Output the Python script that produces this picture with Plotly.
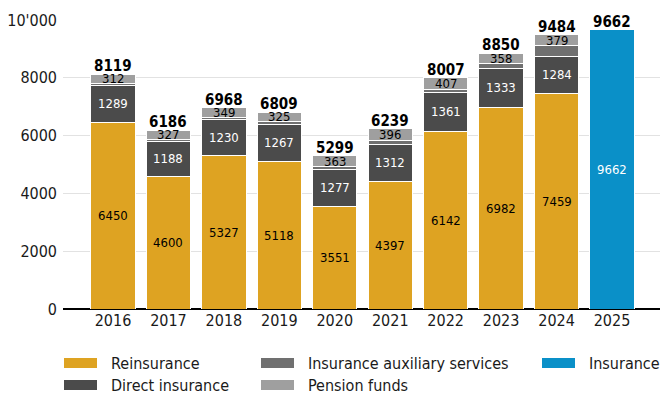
import plotly.graph_objects as go

# Values per year and sector
years = ["2016", "2017", "2018", "2019", "2020", "2021", "2022", "2023", "2024", "2025"]
reinsurance = [6450, 4600, 5327, 5118, 3551, 4397, 6142, 6982, 7459, None]
direct_insurance = [1289, 1188, 1230, 1267, 1277, 1312, 1361, 1333, 1284, None]
auxiliary_services = [68, 71, 62, 99, 108, 134, 97, 177, 362, None]
pension_funds = [312, 327, 349, 325, 363, 396, 407, 358, 379, None]
insurance = [None, None, None, None, None, None, None, None, None, 9662]
totals = [8119, 6186, 6968, 6809, 5299, 6239, 8007, 8850, 9484, 9662]

y_ticks = [0, 2000, 4000, 6000, 8000, 10000]
y_tick_labels = ["0", "2000", "4000", "6000", "8000", "10'000"]

FONT = "DejaVu Sans Condensed, DejaVu Sans, sans-serif"
COLORS = {
    "Reinsurance": "#DEA322",
    "Direct insurance": "#4B4B4B",
    "Insurance auxiliary services": "#707070",
    "Pension funds": "#9F9F9F",
    "Insurance": "#0A90C8",
}

series = [
    ("Reinsurance", reinsurance),
    ("Direct insurance", direct_insurance),
    ("Insurance auxiliary services", auxiliary_services),
    ("Pension funds", pension_funds),
    ("Insurance", insurance),
]

fig = go.Figure()
for name, vals in series:
    fig.add_trace(go.Bar(
        x=years, y=vals, name=name,
        marker=dict(color=COLORS[name], line=dict(color="white", width=1)),
        showlegend=False, hoverinfo="skip",
    ))

annotations = []

def seg_label(xi, y, text, color, size=13):
    annotations.append(dict(
        x=xi, y=y, xref="x", yref="y", text=text,
        showarrow=False, font=dict(family=FONT, size=size, color=color),
    ))

# Labels centred inside stacked segments (x given as category index)
for i, yr in enumerate(years):
    base = 0
    for name, vals in series:
        v = vals[i]
        if v is None:
            continue
        mid = base + v / 2
        if name in ("Direct insurance", "Insurance"):
            seg_label(i, mid, str(v), "white")
        elif name in ("Reinsurance", "Pension funds"):
            seg_label(i, mid, str(v), "black")
        base += v
    # Total on top of each bar
    annotations.append(dict(
        x=i, y=totals[i], xref="x", yref="y", text=f"<b>{totals[i]}</b>",
        showarrow=False, yanchor="bottom", yshift=-3,
        font=dict(family=FONT, size=15, color="black"),
    ))

# Legend drawn as swatches plus labels, laid out in three columns
W, H = 663, 396
ML, MR, MT, MB = 63, 3, 20, 87
pw, ph = W - ML - MR, H - MT - MB

def px_x(px):
    return (px - ML) / pw

def px_y(py):
    return (H - MB - py) / ph

legend_items = [
    ("Reinsurance", 64, 363),
    ("Direct insurance", 64, 385),
    ("Insurance auxiliary services", 261, 363),
    ("Pension funds", 261, 385),
    ("Insurance", 542, 363),
]
shapes = []
for name, sx, cy in legend_items:
    shapes.append(dict(
        type="rect", xref="paper", yref="paper",
        x0=px_x(sx), x1=px_x(sx + 33), y0=px_y(cy + 5), y1=px_y(cy - 5),
        fillcolor=COLORS[name], line=dict(width=0), layer="above",
    ))
    annotations.append(dict(
        x=px_x(sx + 45), y=px_y(cy), xref="paper", yref="paper",
        text=name, showarrow=False, xanchor="left", yanchor="middle",
        font=dict(family=FONT, size=16, color="#1a1a1a"),
    ))

fig.update_layout(
    barmode="stack",
    bargap=0.2,
    width=W, height=H,
    margin=dict(l=ML, r=MR, t=MT, b=MB, pad=0),
    plot_bgcolor="white", paper_bgcolor="white",
    font=dict(family=FONT, size=16, color="#1a1a1a"),
    annotations=annotations,
    shapes=shapes,
    xaxis=dict(
        type="category", range=[-0.902, 9.866], showgrid=False,
        showline=False, ticks="", tickfont=dict(size=16),
        fixedrange=True,
    ),
    yaxis=dict(
        range=[0, 10000], tickvals=y_ticks, ticktext=y_tick_labels,
        showgrid=True, gridcolor="#E2E2E2", gridwidth=1,
        zeroline=True, zerolinecolor="black", zerolinewidth=1.5,
        showline=False, ticks="", ticklabelstandoff=5,
        tickfont=dict(size=16), fixedrange=True,
    ),
)

fig.write_html("out.html", config={"displayModeBar": False})
